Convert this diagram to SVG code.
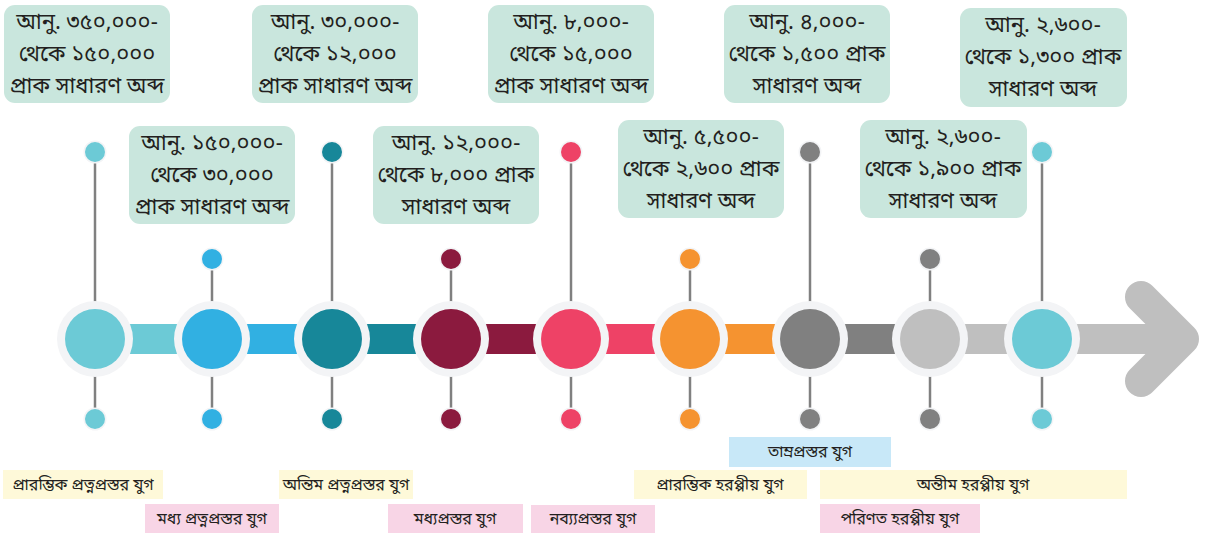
<svg xmlns="http://www.w3.org/2000/svg" width="1211" height="533" viewBox="0 0 1211 533">
  <defs>
    <style>
      .ring { fill: #f3f4f6; }
      .stem { stroke: #808080; stroke-width: 2.5; }
      .dotring { fill: #f3f4f6; }
      .box { fill: #c9e6dd; }
      .yel { fill: #fef9d9; }
      .pnk { fill: #f8d5e6; }
      .blu { fill: #c8e8f8; }
      .t { font-family: "Noto Sans Bengali", "Noto Sans", "Lohit Bengali", sans-serif; font-size: 22px; fill: #231f20; text-anchor: middle; }
      .e { font-family: "Noto Sans Bengali", "Noto Sans", "Lohit Bengali", sans-serif; font-size: 16px; fill: #231f20; text-anchor: middle; }
    </style>
  </defs>

  <!-- timeline bar and arrow -->
  <g id="connectors">
    <rect x="95" y="324" width="118" height="30" fill="#6ccad6"/>
    <rect x="212" y="324" width="121" height="30" fill="#31b0e2"/>
    <rect x="332" y="324" width="120" height="30" fill="#178799"/>
    <rect x="451" y="324" width="121" height="30" fill="#8b1a3e"/>
    <rect x="571" y="324" width="120" height="30" fill="#ee4266"/>
    <rect x="690" y="324" width="121" height="30" fill="#f59330"/>
    <rect x="810" y="324" width="120" height="30" fill="#808080"/>
    <rect x="930" y="324" width="112" height="30" fill="#bfbfbf"/>
    <rect x="1042" y="324" width="140" height="30" fill="#bfbfbf"/>
    <polyline points="1141,297 1183,339 1141,381" fill="none" stroke="#bfbfbf" stroke-width="32" stroke-linecap="round" stroke-linejoin="round"/>
  </g>

  <!-- node 1 -->
  <g id="node1">
    <line class="stem" x1="95" y1="152" x2="95" y2="302"/>
    <line class="stem" x1="95" y1="376" x2="95" y2="419"/>
    <circle class="ring" cx="95" cy="339" r="38"/>
    <circle cx="95" cy="339" r="30" fill="#6ccad6"/>
    <circle class="dotring" cx="95" cy="152" r="11.5"/>
    <circle cx="95" cy="152" r="10" fill="#6ccad6"/>
    <circle class="dotring" cx="95" cy="419" r="11.5"/>
    <circle cx="95" cy="419" r="10" fill="#6ccad6"/>
    <rect class="box" x="4" y="5" width="166" height="98" rx="11"/>
    <text class="t" x="87" y="29">আনু. ৩৫০,০০০-</text>
    <text class="t" x="87" y="61">থেকে ১৫০,০০০</text>
    <text class="t" x="87" y="93">প্রাক সাধারণ অব্দ</text>
  </g>

  <!-- node 2 -->
  <g id="node2">
    <line class="stem" x1="212" y1="259" x2="212" y2="302"/>
    <line class="stem" x1="212" y1="376" x2="212" y2="419"/>
    <circle class="ring" cx="212" cy="339" r="38"/>
    <circle cx="212" cy="339" r="30" fill="#31b0e2"/>
    <circle class="dotring" cx="212" cy="259" r="11.5"/>
    <circle cx="212" cy="259" r="10" fill="#31b0e2"/>
    <circle class="dotring" cx="212" cy="419" r="11.5"/>
    <circle cx="212" cy="419" r="10" fill="#31b0e2"/>
    <rect class="box" x="129" y="126" width="166" height="98" rx="11"/>
    <text class="t" x="212" y="150">আনু. ১৫০,০০০-</text>
    <text class="t" x="212" y="182">থেকে ৩০,০০০</text>
    <text class="t" x="212" y="214">প্রাক সাধারণ অব্দ</text>
  </g>

  <!-- node 3 -->
  <g id="node3">
    <line class="stem" x1="332" y1="152" x2="332" y2="302"/>
    <line class="stem" x1="332" y1="376" x2="332" y2="419"/>
    <circle class="ring" cx="332" cy="339" r="38"/>
    <circle cx="332" cy="339" r="30" fill="#178799"/>
    <circle class="dotring" cx="332" cy="152" r="11.5"/>
    <circle cx="332" cy="152" r="10" fill="#178799"/>
    <circle class="dotring" cx="332" cy="419" r="11.5"/>
    <circle cx="332" cy="419" r="10" fill="#178799"/>
    <rect class="box" x="252" y="5" width="166" height="98" rx="11"/>
    <text class="t" x="335" y="29">আনু. ৩০,০০০-</text>
    <text class="t" x="335" y="61">থেকে ১২,০০০</text>
    <text class="t" x="335" y="93">প্রাক সাধারণ অব্দ</text>
  </g>

  <!-- node 4 -->
  <g id="node4">
    <line class="stem" x1="451" y1="259" x2="451" y2="302"/>
    <line class="stem" x1="451" y1="376" x2="451" y2="419"/>
    <circle class="ring" cx="451" cy="339" r="38"/>
    <circle cx="451" cy="339" r="30" fill="#8b1a3e"/>
    <circle class="dotring" cx="451" cy="259" r="11.5"/>
    <circle cx="451" cy="259" r="10" fill="#8b1a3e"/>
    <circle class="dotring" cx="451" cy="419" r="11.5"/>
    <circle cx="451" cy="419" r="10" fill="#8b1a3e"/>
    <rect class="box" x="373" y="126" width="166" height="98" rx="11"/>
    <text class="t" x="456" y="150">আনু. ১২,০০০-</text>
    <text class="t" x="456" y="182">থেকে ৮,০০০ প্রাক</text>
    <text class="t" x="456" y="214">সাধারণ অব্দ</text>
  </g>

  <!-- node 5 -->
  <g id="node5">
    <line class="stem" x1="571" y1="152" x2="571" y2="302"/>
    <line class="stem" x1="571" y1="376" x2="571" y2="419"/>
    <circle class="ring" cx="571" cy="339" r="38"/>
    <circle cx="571" cy="339" r="30" fill="#ee4266"/>
    <circle class="dotring" cx="571" cy="152" r="11.5"/>
    <circle cx="571" cy="152" r="10" fill="#ee4266"/>
    <circle class="dotring" cx="571" cy="419" r="11.5"/>
    <circle cx="571" cy="419" r="10" fill="#ee4266"/>
    <rect class="box" x="488" y="5" width="166" height="98" rx="11"/>
    <text class="t" x="571" y="29">আনু. ৮,০০০-</text>
    <text class="t" x="571" y="61">থেকে ১৫,০০০</text>
    <text class="t" x="571" y="93">প্রাক সাধারণ অব্দ</text>
  </g>

  <!-- node 6 -->
  <g id="node6">
    <line class="stem" x1="690" y1="259" x2="690" y2="302"/>
    <line class="stem" x1="690" y1="376" x2="690" y2="419"/>
    <circle class="ring" cx="690" cy="339" r="38"/>
    <circle cx="690" cy="339" r="30" fill="#f59330"/>
    <circle class="dotring" cx="690" cy="259" r="11.5"/>
    <circle cx="690" cy="259" r="10" fill="#f59330"/>
    <circle class="dotring" cx="690" cy="419" r="11.5"/>
    <circle cx="690" cy="419" r="10" fill="#f59330"/>
    <rect class="box" x="618" y="120" width="166" height="98" rx="11"/>
    <text class="t" x="701" y="144">আনু. ৫,৫০০-</text>
    <text class="t" x="701" y="176">থেকে ২,৬০০ প্রাক</text>
    <text class="t" x="701" y="208">সাধারণ অব্দ</text>
  </g>

  <!-- node 7 -->
  <g id="node7">
    <line class="stem" x1="810" y1="152" x2="810" y2="302"/>
    <line class="stem" x1="810" y1="376" x2="810" y2="419"/>
    <circle class="ring" cx="810" cy="339" r="38"/>
    <circle cx="810" cy="339" r="30" fill="#808080"/>
    <circle class="dotring" cx="810" cy="152" r="11.5"/>
    <circle cx="810" cy="152" r="10" fill="#808080"/>
    <circle class="dotring" cx="810" cy="419" r="11.5"/>
    <circle cx="810" cy="419" r="10" fill="#808080"/>
    <rect class="box" x="724" y="5" width="166" height="98" rx="11"/>
    <text class="t" x="807" y="29">আনু. ৪,০০০-</text>
    <text class="t" x="807" y="61">থেকে ১,৫০০ প্রাক</text>
    <text class="t" x="807" y="93">সাধারণ অব্দ</text>
  </g>

  <!-- node 8 -->
  <g id="node8">
    <line class="stem" x1="930" y1="259" x2="930" y2="302"/>
    <line class="stem" x1="930" y1="376" x2="930" y2="419"/>
    <circle class="ring" cx="930" cy="339" r="38"/>
    <circle cx="930" cy="339" r="30" fill="#bfbfbf"/>
    <circle class="dotring" cx="930" cy="259" r="11.5"/>
    <circle cx="930" cy="259" r="10" fill="#808080"/>
    <circle class="dotring" cx="930" cy="419" r="11.5"/>
    <circle cx="930" cy="419" r="10" fill="#808080"/>
    <rect class="box" x="860" y="120" width="167" height="98" rx="11"/>
    <text class="t" x="943" y="144">আনু. ২,৬০০-</text>
    <text class="t" x="943" y="176">থেকে ১,৯০০ প্রাক</text>
    <text class="t" x="943" y="208">সাধারণ অব্দ</text>
  </g>

  <!-- node 9 -->
  <g id="node9">
    <line class="stem" x1="1042" y1="152" x2="1042" y2="302"/>
    <line class="stem" x1="1042" y1="376" x2="1042" y2="419"/>
    <circle class="ring" cx="1042" cy="339" r="38"/>
    <circle cx="1042" cy="339" r="30" fill="#6ccad6"/>
    <circle class="dotring" cx="1042" cy="152" r="11.5"/>
    <circle cx="1042" cy="152" r="10" fill="#6ccad6"/>
    <circle class="dotring" cx="1042" cy="419" r="11.5"/>
    <circle cx="1042" cy="419" r="10" fill="#6ccad6"/>
    <rect class="box" x="960" y="8" width="167" height="99" rx="11"/>
    <text class="t" x="1043" y="32">আনু. ২,৬০০-</text>
    <text class="t" x="1043" y="64">থেকে ১,৩০০ প্রাক</text>
    <text class="t" x="1043" y="96">সাধারণ অব্দ</text>
  </g>

  <!-- era bands -->
  <g id="era-lower-palaeolithic">
    <rect class="yel" x="3" y="470" width="160" height="29"/>
    <text class="e" x="83" y="490">প্রারম্ভিক প্রত্নপ্রস্তর যুগ</text>
  </g>
  <g id="era-middle-palaeolithic">
    <rect class="pnk" x="145" y="504" width="134" height="29"/>
    <text class="e" x="212" y="524">মধ্য প্রত্নপ্রস্তর যুগ</text>
  </g>
  <g id="era-upper-palaeolithic">
    <rect class="yel" x="279" y="470" width="134" height="29"/>
    <text class="e" x="346" y="490">অন্তিম প্রত্নপ্রস্তর যুগ</text>
  </g>
  <g id="era-mesolithic">
    <rect class="pnk" x="388" y="504" width="135" height="29"/>
    <text class="e" x="455" y="524">মধ্যপ্রস্তর যুগ</text>
  </g>
  <g id="era-neolithic">
    <rect class="pnk" x="531" y="505" width="124" height="28"/>
    <text class="e" x="593" y="524">নব্য্যপ্রস্তর যুগ</text>
  </g>
  <g id="era-early-harappan">
    <rect class="yel" x="634" y="470" width="173" height="29"/>
    <text class="e" x="720" y="490">প্রারম্ভিক হরপ্পীয় যুগ</text>
  </g>
  <g id="era-chalcolithic">
    <rect class="blu" x="729" y="437" width="162" height="30"/>
    <text class="e" x="810" y="457">তাম্রপ্রস্তর যুগ</text>
  </g>
  <g id="era-late-harappan">
    <rect class="yel" x="820" y="470" width="307" height="29"/>
    <text class="e" x="973" y="490">অন্তীম হরপ্পীয় যুগ</text>
  </g>
  <g id="era-mature-harappan">
    <rect class="pnk" x="820" y="504" width="160" height="29"/>
    <text class="e" x="900" y="524">পরিণত হরপ্পীয় যুগ</text>
  </g>
</svg>
